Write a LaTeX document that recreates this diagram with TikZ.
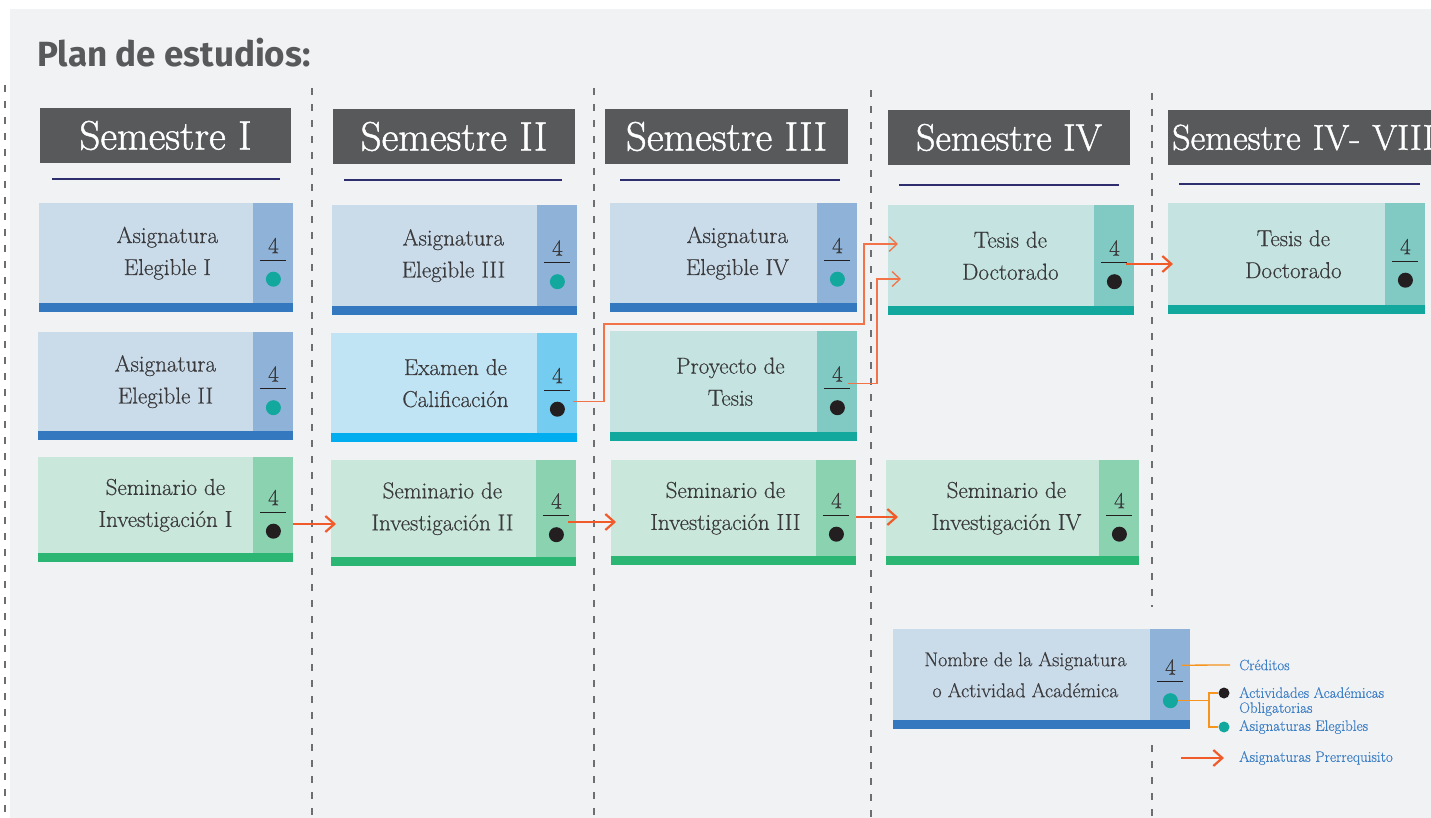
\documentclass[tikz,border=0pt]{standalone}
\usepackage{fontspec}
\setmainfont{Latin Modern Roman}[FakeBold=0.5]
\newfontfamily\titulofont{Fira Sans}
\newfontfamily\cabfont{Latin Modern Roman}[FakeBold=1.2]
\usetikzlibrary{arrows.meta,calc}

\definecolor{fondo}{HTML}{F1F2F4}
\definecolor{cabecera}{HTML}{58595B}
\definecolor{marino}{HTML}{2E2D6E}
\definecolor{guiones}{HTML}{6D6E71}
\definecolor{tinta}{HTML}{3A3A3C}
\definecolor{negro}{HTML}{231F20}
\definecolor{turquesa}{HTML}{12A89D}
\definecolor{naranja}{HTML}{F15A29}
\definecolor{ambar}{HTML}{F7941D}
\definecolor{azulley}{HTML}{3D7FC5}
% paletas: A relleno, B columna de creditos, C barra inferior
\definecolor{azulA}{HTML}{CADBEA}
\definecolor{azulB}{HTML}{8FB3D8}
\definecolor{azulC}{HTML}{3479BF}
\definecolor{celesteA}{HTML}{C1E4F4}
\definecolor{celesteB}{HTML}{74CCF0}
\definecolor{celesteC}{HTML}{00ADEE}
\definecolor{verdeA}{HTML}{C9E7DA}
\definecolor{verdeB}{HTML}{8AD2B0}
\definecolor{verdeC}{HTML}{2BB673}
\definecolor{turqA}{HTML}{C5E4E1}
\definecolor{turqB}{HTML}{80CAC3}
\definecolor{turqC}{HTML}{12A89D}

\tikzset{
  caja/.style={rectangle, inner sep=0pt, anchor=north west},
  texto/.style={align=center, inner sep=0pt, text=tinta, font=\fontsize{23}{32}\selectfont},
  cifra/.style={anchor=base, inner sep=0pt, text=tinta, font=\fontsize{23}{26}\selectfont},
  raya/.style={draw=negro, line width=1.4pt},
  punto/.style={circle, inner sep=0pt, minimum size=15pt},
  semestre/.style={fill=cabecera, text=white, inner sep=0pt, minimum height=55pt, font=\cabfont\fontsize{41}{46}\selectfont},
  titulo/.style={anchor=base west, inner sep=0pt, text=cabecera, font=\titulofont\bfseries\fontsize{35}{38}\selectfont},
  subraya/.style={draw=marino, line width=2.2pt},
  guion/.style={draw=guiones, line width=1.2pt, dash pattern=on 7pt off 9pt},
  prereq/.style={draw=naranja, line width=2.2pt, -{Straight Barb[length=9pt,width=16pt]}},
  prereqfino/.style={draw=naranja!85!white, line width=1.3pt, -{Straight Barb[length=8pt,width=15pt]}},
  guia/.style={draw=ambar, line width=1.3pt},
  leyenda/.style={anchor=west, inner sep=0pt, text=azulley, align=left, font=\fontsize{15}{15}\selectfont},
}

% \materia{nombre}{paleta}{x1}{y1}{x2}{y2}{x texto}{color punto}{texto}
\newcommand{\materia}[9]{%
  \node[caja, fill=#2A, minimum width={#5pt-#3pt}, minimum height={#6pt-#4pt}] (#1) at (#3,#4) {};
  \fill[#2B] ([xshift=-40pt]#1.north east) rectangle ([yshift=9pt]#1.south east);
  \fill[#2C] ([yshift=9pt]#1.south west) rectangle (#1.south east);
  \coordinate (#1-m) at ([xshift=-20pt,yshift=4.5pt]#1.east);
  \node[texto] (#1-txt) at ($(#1-m)+({#7-#5+20},0)$) {#9};
  \node[cifra] (#1-cr) at (#1-m) {4};
  \draw[raya] ($(#1-m)+(-13,7)$) -- ($(#1-m)+(13,7)$);
  \node[punto, fill=#8] (#1-dot) at ($(#1-m)+(0,26)$) {};
}

\begin{document}
\begin{tikzpicture}[x=1pt,y=-1pt]
  \useasboundingbox (0,0) rectangle (1431,818);
  \clip (0,0) rectangle (1431,818);
  \fill[white] (0,0) rectangle (1431,818);
  \fill[fondo] (10,9) rectangle (1431,818);

  \node[titulo] (titulo) at (37,67) {Plan de estudios:};

  % separadores
  \draw[guion] (5,85) -- (5,818);
  \draw[guion] (312,88) -- (312,818);
  \draw[guion] (594,88) -- (594,818);
  \draw[guion] (871,90) -- (871,818);
  \draw[guion] (1152,93) -- (1152,607);
  \draw[guion] (1152,745) -- (1152,818);

  % cabeceras
  \node[semestre, minimum width=251pt] (cabI) at (165.5,135.5) {Semestre I};
  \node[semestre, minimum width=242pt] (cabII) at (454,136.5) {Semestre II};
  \node[semestre, minimum width=243pt] (cabIII) at (726.5,136.5) {Semestre III};
  \node[semestre, minimum width=242pt, font=\cabfont\fontsize{38}{44}\selectfont] (cabIV) at (1009,137.5) {Semestre IV};
  \node[semestre, anchor=west, text width=320pt, inner xsep=4pt, align=left, font=\cabfont\fontsize{36}{44}\selectfont] (cabV) at (1168,137.5) {Semestre IV- VIII};
  \draw[subraya] (52,179) -- (280,179);
  \draw[subraya] (344,180) -- (562,180);
  \draw[subraya] (620,180) -- (840,180);
  \draw[subraya] (899,185) -- (1119,185);
  \draw[subraya] (1179,184) -- (1420,184);

  % asignaturas
  \materia{eleI}{azul}{39}{203}{293}{312}{167}{turquesa}{Asignatura\\Elegible I}
  \materia{eleII}{azul}{38}{332}{293}{440}{165}{turquesa}{Asignatura\\Elegible II}
  \materia{semI}{verde}{38}{457}{293}{562}{165}{negro}{Seminario de\\Investigación I}
  \materia{eleIII}{azul}{332}{205}{577}{315}{453}{turquesa}{Asignatura\\Elegible III}
  \materia{examen}{celeste}{331}{333}{577}{442}{455}{negro}{Examen de\\Calificación}
  \materia{semII}{verde}{331}{460}{576}{566}{442}{negro}{Seminario de\\Investigación II}
  \materia{eleIV}{azul}{610}{203}{857}{312}{737}{turquesa}{Asignatura\\Elegible IV}
  \materia{proyecto}{turq}{610}{331}{857}{441}{730}{negro}{Proyecto de\\Tesis}
  \materia{semIII}{verde}{611}{460}{856}{565}{725}{negro}{Seminario de\\Investigación III}
  \materia{tesisIV}{turq}{888}{205}{1134}{315}{1010}{negro}{Tesis de\\Doctorado}
  \materia{semIV}{verde}{886}{460}{1139}{565}{1006}{negro}{Seminario de\\Investigación IV}
  \materia{tesisV}{turq}{1168}{203}{1425}{314}{1293}{negro}{Tesis de\\Doctorado}
  {\tikzset{texto/.append style={font=\fontsize{20}{31}\selectfont}}
  \materia{nombre}{azul}{893}{629}{1190}{729}{1025}{turquesa}{Nombre de la Asignatura\\o Actividad Académica}}

  % prerrequisitos
  \draw[prereq, shorten >=-5pt] (semI.east |- 0,524) -- (semII.west |- 0,524);
  \draw[prereq, shorten >=-5pt, shorten <=-8pt] (semII.east |- 0,522) -- (semIII.west |- 0,522);
  \draw[prereq, shorten >=-12pt] (semIII.east |- 0,517) -- (semIV.west |- 0,517);
  \draw[prereq, shorten >=-5pt, shorten <=-8pt] (tesisIV.east |- 0,264) -- (tesisV.west |- 0,264);
  \draw[prereqfino, shorten >=-10pt] ($(examen-m)+(16,18)$) -| (604,324) -| (864,244) -- (tesisIV.west |- 0,244);
  \draw[prereqfino, shorten >=-13pt] ($(proyecto-m)+(11,1.5)$) -| (877,279) -- (tesisIV.west |- 0,279);

  % leyenda
  \node[leyenda] (cred) at (1239,665) {Créditos};
  \draw[guia] ($(nombre-m)+(11,-9.5)$) -- ([xshift=-9pt]cred.west);
  \draw[guia] (nombre-dot.east) -- ++(31,0) coordinate (llave);
  \node[punto, minimum size=11pt, fill=negro] (ley-obl) at (1224,693) {};
  \node[punto, minimum size=11pt, fill=turquesa] (ley-ele) at (1224,727) {};
  \draw[guia] (ley-obl) -| (llave) |- (ley-ele);
  \node[leyenda, anchor=north west] (ley-obl-t) at (1239,687) {Actividades Académicas\\Obligatorias};
  \node[leyenda] (ley-ele-t) at (1239,727) {Asignaturas Elegibles};
  \node[leyenda] (ley-pre) at (1239,758) {Asignaturas Prerrequisito};
  \draw[prereq] ([xshift=-58pt]ley-pre.west) -- ([xshift=-15pt]ley-pre.west);
\end{tikzpicture}
\end{document}
